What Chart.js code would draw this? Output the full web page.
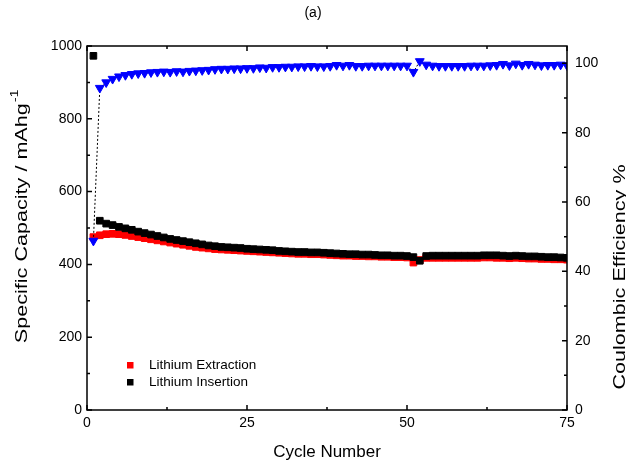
<!DOCTYPE html>
<html lang="en">

<head>
    <meta charset="UTF-8">
    <title>Cycling</title>
    <script src="https://cdn.jsdelivr.net/npm/chart.js"></script>
    <style>
        html, body {
            margin: 0;
            padding: 0;
            background: #fff;
        }

        #wrap {
            width: 626px;
            height: 461px;
        }
    </style>
</head>

<body>
    <div id="wrap">
        <canvas id="myChart"></canvas>
    </div>

    <script>
        const cycles = [1, 2, 3, 4, 5, 6, 7, 8, 9, 10, 11, 12, 13, 14, 15, 16, 17, 18, 19, 20,
            21, 22, 23, 24, 25, 26, 27, 28, 29, 30, 31, 32, 33, 34, 35, 36, 37, 38, 39, 40,
            41, 42, 43, 44, 45, 46, 47, 48, 49, 50, 51, 52, 53, 54, 55, 56, 57, 58, 59, 60,
            61, 62, 63, 64, 65, 66, 67, 68, 69, 70, 71, 72, 73, 74, 75]

        // mAh/g
        const extraction = [475, 480, 483, 484, 483, 481, 478, 475, 472, 469, 466, 463, 460, 457, 454, 451, 448, 446, 444, 442,
            441, 440, 439, 438, 437, 436, 435, 434, 433, 432, 431, 430, 429, 429, 428, 428, 427, 426, 425, 424,
            424, 423, 423, 422, 422, 421, 421, 420, 420, 419, 405, 412, 418, 418, 418, 418, 418, 418, 418, 418,
            418, 419, 419, 418, 418, 417, 418, 417, 416, 416, 415, 415, 414, 414, 413]

        const insertion = [973, 520, 512, 508, 503, 499, 495, 490, 486, 482, 478, 474, 470, 467, 464, 461, 458, 455, 452, 450,
            448, 447, 446, 445, 443, 442, 441, 440, 439, 437, 436, 435, 434, 434, 433, 433, 432, 431, 430, 429,
            428, 428, 427, 427, 426, 425, 425, 424, 424, 423, 420, 410, 423, 424, 424, 424, 424, 424, 424, 424,
            424, 425, 425, 425, 424, 423, 424, 423, 422, 422, 421, 420, 420, 419, 418]

        // %
        const efficiency = [48.8, 92.9, 94.5, 95.5, 96.2, 96.6, 96.9, 97.1, 97.2, 97.4, 97.5, 97.6, 97.5, 97.7, 97.6, 97.8, 97.9, 98.0, 98.1, 98.3,
            98.4, 98.4, 98.5, 98.5, 98.6, 98.6, 98.8, 98.7, 98.9, 98.9, 99.0, 99.0, 99.1, 99.1, 99.2, 99.1, 99.1, 99.2, 99.5, 99.3,
            99.5, 99.2, 99.2, 99.3, 99.3, 99.3, 99.3, 99.3, 99.3, 99.3, 97.5, 100.6, 99.6, 99.3, 99.2, 99.2, 99.2, 99.2, 99.2, 99.3,
            99.3, 99.3, 99.4, 99.5, 99.8, 99.4, 99.9, 99.5, 99.8, 99.6, 99.4, 99.5, 99.5, 99.6, 99.4]

        const xTicks = [0, 25, 50, 75]
        const leftTicks = [0, 200, 400, 600, 800, 1000]
        const rightTicks = [0, 20, 40, 60, 80, 100]

        const font = 'Liberation Sans, Arial, sans-serif'
        Chart.defaults.font.family = font
        Chart.defaults.color = '#000'

        function points(values) {
            return cycles.map((c, i) => ({ x: c, y: values[i] }))
        }

        function keepTicks(list) {
            return (scale) => {
                scale.ticks = list.map((v) => ({ value: v }))
            }
        }

        function plain(value) {
            return String(value)
        }

        function drawVertical(ctx, text, sup, x, y, stretch) {
            ctx.save()
            ctx.translate(x, y)
            ctx.rotate(-Math.PI / 2)
            ctx.scale(stretch, 1)
            ctx.font = '17px ' + font
            ctx.textBaseline = 'middle'
            const w = ctx.measureText(text).width
            ctx.font = '11px ' + font
            const sw = sup ? ctx.measureText(sup).width : 0
            let start = -(w + sw) / 2
            ctx.font = '17px ' + font
            ctx.fillText(text, start, 0)
            if (sup) {
                ctx.font = '11px ' + font
                ctx.fillText(sup, start + w + 1, -7)
            }
            ctx.restore()
        }

        // box, inward ticks, side titles and legend
        const decorations = {
            id: 'decorations',
            afterDraw(chart) {
                const { ctx, chartArea: a, scales } = chart
                ctx.save()
                ctx.strokeStyle = '#000'
                ctx.lineWidth = 1.5
                ctx.strokeRect(a.left, a.top, a.right - a.left, a.bottom - a.top)

                ctx.beginPath()
                for (let v = 0; v <= 75; v += 12.5) {
                    const x = scales.x.getPixelForValue(v)
                    const len = v % 25 === 0 ? 5 : 3
                    ctx.moveTo(x, a.bottom)
                    ctx.lineTo(x, a.bottom - len)
                    ctx.moveTo(x, a.top)
                    ctx.lineTo(x, a.top + len)
                }
                for (let v = 0; v <= 1000; v += 100) {
                    const y = scales.y.getPixelForValue(v)
                    const len = v % 200 === 0 ? 5 : 3
                    ctx.moveTo(a.left, y)
                    ctx.lineTo(a.left + len, y)
                }
                for (let v = 0; v <= 100; v += 10) {
                    const y = scales.y1.getPixelForValue(v)
                    const len = v % 20 === 0 ? 5 : 3
                    ctx.moveTo(a.right, y)
                    ctx.lineTo(a.right - len, y)
                }
                ctx.stroke()

                ctx.fillStyle = '#000'
                drawVertical(ctx, 'Specific Capacity / mAhg', '-1', 22, 217, 1.27)
                drawVertical(ctx, 'Coulombic Efficiency %', '', 620, 277, 1.27)

                // legend
                const items = [chart.data.datasets[2], chart.data.datasets[1]]
                ctx.font = '13.5px ' + font
                ctx.textBaseline = 'middle'
                items.forEach((ds, i) => {
                    const y = a.top + 319 + i * 17
                    ctx.fillStyle = ds.backgroundColor
                    ctx.fillRect(a.left + 40, y - 3, 6.5, 6.5)
                    ctx.fillStyle = '#000'
                    ctx.fillText(ds.label, a.left + 62, y)
                })
                ctx.restore()
            }
        }

        var ctx = document.getElementById('myChart').getContext('2d')
        var chart = new Chart(ctx, {
            type: 'scatter',
            data: {
                datasets: [{
                    label: 'Coulombic Efficiency',
                    data: points(efficiency),
                    yAxisID: 'y1',
                    showLine: true,
                    borderColor: '#000',
                    borderWidth: 1,
                    borderDash: [2, 2],
                    backgroundColor: '#0000ff',
                    pointBorderColor: '#0000ff',
                    pointBorderWidth: 1,
                    pointStyle: 'triangle',
                    rotation: 180,
                    pointRadius: 5.1
                }, {
                    label: 'Lithium Insertion',
                    data: points(insertion),
                    yAxisID: 'y',
                    backgroundColor: '#000',
                    borderColor: '#000',
                    pointStyle: 'rect',
                    pointRadius: 4.7,
                    pointBorderWidth: 1
                }, {
                    label: 'Lithium Extraction',
                    data: points(extraction),
                    yAxisID: 'y',
                    backgroundColor: '#ff0000',
                    borderColor: '#ff0000',
                    pointStyle: 'rect',
                    pointRadius: 4.7,
                    pointBorderWidth: 1
                }]
            },
            options: {
                responsive: true,
                maintainAspectRatio: false,
                animation: false,
                layout: { padding: 0 },
                plugins: {
                    legend: { display: false },
                    tooltip: { enabled: false },
                    title: {
                        display: true,
                        text: '(a)',
                        font: { size: 14, weight: 'normal' },
                        color: '#000',
                        padding: { top: 5, bottom: 24.2 }
                    }
                },
                scales: {
                    x: {
                        type: 'linear',
                        min: 0,
                        max: 75,
                        afterBuildTicks: keepTicks(xTicks),
                        afterFit: (s) => { s.height = 51 },
                        grid: { display: false, drawTicks: false },
                        border: { display: false },
                        ticks: { font: { size: 14 }, padding: 5, maxRotation: 0, autoSkip: false, callback: plain },
                        title: {
                            display: true,
                            text: 'Cycle Number',
                            font: { size: 17 },
                            padding: { top: 0, bottom: -2 }
                        }
                    },
                    y: {
                        position: 'left',
                        min: 0,
                        max: 1000,
                        afterBuildTicks: keepTicks(leftTicks),
                        afterFit: (s) => { s.width = 87 },
                        grid: { display: false, drawTicks: false },
                        border: { display: false },
                        ticks: { font: { size: 14 }, padding: 5, callback: plain }
                    },
                    y1: {
                        position: 'right',
                        min: 0,
                        max: 105,
                        afterBuildTicks: keepTicks(rightTicks),
                        afterFit: (s) => { s.width = 59 },
                        grid: { display: false, drawTicks: false },
                        border: { display: false },
                        ticks: { font: { size: 14 }, padding: 8, callback: plain }
                    }
                }
            },
            plugins: [decorations]
        })
    </script>
</body>

</html>
